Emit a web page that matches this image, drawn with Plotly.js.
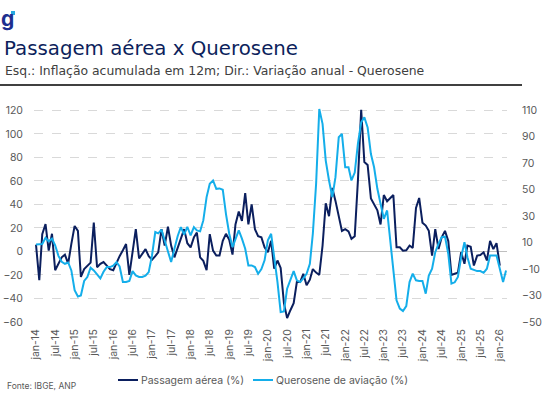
<!DOCTYPE html>
<html><head><meta charset="utf-8">
<script src="https://cdn.plot.ly/plotly-3.0.1.min.js"></script>
<style>html,body{margin:0;padding:0;background:#fff}#chart{width:544px;height:395px}</style>
</head><body><div id="chart"></div>
<script>
const startYear = 2014;
// Passagem aérea (%) – inflação acumulada em 12m (eixo esquerdo), jan-14 .. jan-26
const passagem = [
 5.7,-24.5,14.7,23.3,0.7,15,-16,-10.4,-5,-2.7,
 -10.4,6.5,21.7,17.5,-21.7,-15,-12,-9.5,24.5,-13.4,
 -10.5,-9,-12,-15,-16,-9,-4,1,6.3,-20,
 0,19,-6,-2,2,-4,-7,-4,-0.7,19,
 5,21,5,-5,3.5,12,19,7,3.5,12,
 16,-5,-8,-16,14.7,0.7,-3.5,-3.5,9,15,
 10,-2.7,23,34,26,49.6,23,40,19,13,
 12,3.5,-0.7,9,-14.7,-7.7,-14,-44,-56.7,-50,
 -44,-26,-26,-19,-28.7,-24,-15,-18,-20,5,
 41,30,54,43,30,17.5,19,17,10.7,13,
 60,120.5,76,73.5,45,40,35,23,48,42.7,
 45,48,3.5,3.5,0.7,1,5,3,37,45.5,
 24.5,22,17.5,-3.5,19,2,12,17.5,9,-20,
 -19,-18,-0.7,-10.5,5,4,-12,-3.5,-3,-0.7,
 -7.7,9,2,7,-12
];
// Querosene de aviação (%) – variação anual (eixo direito), jan-14 .. mar-26
const querosene = [
 8.6,8.6,9,13.7,11,13,8,0,-4.5,-6,
 -5,-11,-26,-30.7,-30,-19,-16,-9,-11,-14,
 -17,-12,-8.5,-8.5,-7.5,-4.7,-8,-19.8,-19.8,-19,
 -11.5,-14.8,-16,-16,-15,-12.3,0.3,18,17,19.7,
 11.7,4,-4.7,5.4,15,21.7,16,22,15.4,21.7,
 19.2,18.5,26.8,44.4,54.5,57,50.7,51,50,31.8,
 16.7,6.6,13,19.2,13,5.4,-7.2,-7.2,-8.5,-13.5,
 -10,-3.4,11.7,16.7,-1,-19.8,-42.5,-42,-24.8,-18.5,
 -11.5,-18.5,-19.8,-17,-13.5,-6,16.7,54.5,111,99.8,
 72,57,44.4,59.5,89.7,92.2,67,67,57,63,
 84.7,101,104.7,97,77,67,50.7,39.4,28,34.3,
 11.7,-13.5,-33.6,-39.8,-41.7,-38,-19.8,-13.5,-18.5,-19,
 -19,-28.6,-14.8,-9.7,2.8,9.2,14.2,14.5,1.6,-21,
 -20,-16,-1,10.4,-1,-9.7,-10.5,-11.5,-11.5,-12.8,
 -9.7,0.3,0.3,0.3,-9.7,-19.8,-11
];
const seriesNames = ['Passagem aérea (%)', 'Querosene de aviação (%)'];
const tickLabels = ['jan-14','jul-14','jan-15','jul-15','jan-16','jul-16','jan-17','jul-17',
 'jan-18','jul-18','jan-19','jul-19','jan-20','jul-20','jan-21','jul-21','jan-22','jul-22',
 'jan-23','jul-23','jan-24','jul-24','jan-25','jul-25','jan-26'];
const leftTicks = [-60,-40,-20,0,20,40,60,80,100,120];
const rightTicks = [-50,-30,-10,10,30,50,70,90,110];

function monthDate(i){
  const y = startYear + Math.floor(i/12), m = i%12 + 1;
  return y + '-' + String(m).padStart(2,'0') + '-01';
}
const datesP = passagem.map((_,i)=>monthDate(i));
const datesQ = querosene.map((_,i)=>monthDate(i));
const tickDates = tickLabels.map((_,i)=>monthDate(i*6));

const W=544, H=395, ml=34, mr=37, mt=108, mb=73;
const pw=W-ml-mr, ph=H-mt-mb;
const px = x => (x-ml)/pw;
const py = y => (H-mb-y)/ph;

const FONT = 'Inter, "Open Sans", sans-serif';
const TFONT = '"DejaVu Sans", Inter, sans-serif';
const navy = '#0b1f5e', cyan = '#14aeea', grey = '#595959';
const colors = [navy, cyan];
const extra = 2;

const traces = [
  {x: datesP, y: passagem, type:'scatter', mode:'lines', name:seriesNames[0],
   line:{color:navy, width:2}, yaxis:'y', hoverinfo:'skip', showlegend:false},
  {x: datesQ, y: querosene, type:'scatter', mode:'lines', name:seriesNames[1],
   line:{color:cyan, width:2}, yaxis:'y2', hoverinfo:'skip', showlegend:false}
];

// legend drawn as line samples + texts
const legendLineX = [[118,138],[253,273]];
const legendTextX = [139, 274];
const legendY = 380;

const annotations = [
  {text:'Esq.: Inflação acumulada em 12m; Dir.: Variação anual - Querosene', xref:'paper', yref:'paper',
   x:px(3), y:py(71), xanchor:'left', yanchor:'middle', showarrow:false,
   font:{size:12.4, color:'#404040', family:TFONT}},
  {text:'Fonte: IBGE, ANP', xref:'paper', yref:'paper', x:px(5), y:py(386), xanchor:'left',
   yanchor:'middle', showarrow:false, font:{size:8.5, color:grey, family:FONT}},
  {text:'<b>g</b>', xref:'paper', yref:'paper', x:px(-1), y:py(19), xanchor:'left', yanchor:'middle',
   showarrow:false, font:{size:21, color:'#1d2f8f', family:FONT}}
];
const shapes = [
  {type:'line', xref:'paper', yref:'paper', x0:px(0), x1:px(522), y0:py(85), y1:py(85),
   line:{color:'#000', width:1.5}},
  {type:'rect', xref:'paper', yref:'paper', x0:px(11), x1:px(15), y0:py(15), y1:py(11),
   fillcolor:'#27a9e1', line:{width:0}}
];
seriesNames.forEach((n,i)=>{
  shapes.push({type:'line', xref:'paper', yref:'paper', x0:px(legendLineX[i][0]), x1:px(legendLineX[i][1]),
    y0:py(legendY), y1:py(legendY), line:{color:colors[i], width:2}});
  annotations.push({text:n, xref:'paper', yref:'paper', x:px(legendTextX[i]), y:py(legendY),
    xanchor:'left', yanchor:'middle', showarrow:false, font:{size:10.5, color:grey, family:FONT}});
});

const layout = {
  width:W, height:H, margin:{l:ml, r:mr, t:mt, b:mb, autoexpand:false},
  paper_bgcolor:'#fff', plot_bgcolor:'#fff',
  font:{family:FONT, color:grey, size:10.5},
  showlegend:false,
  title:{text:'Passagem aérea x Querosene', x:4/W, xanchor:'left', xref:'container',
    y:1-48/H, yanchor:'middle', yref:'container', font:{size:19.8, color:'#0d1f5c', family:TFONT}},
  xaxis:{type:'date', range:['2013-12-13','2026-03-10'], tickvals:tickDates, ticktext:tickLabels,
    tickangle:-90, showgrid:false, zeroline:false, showline:false, ticks:'',
    tickfont:{size:10.5, color:grey}, ticklabelstandoff:4, automargin:false},
  yaxis:{range:[-60,120+extra], tickvals:leftTicks, showgrid:true, gridcolor:'#d9d9d9',
    griddash:'dash', gridwidth:1, zeroline:true, zerolinecolor:'#bfbfbf', zerolinewidth:1.3,
    showline:false, ticks:'', tickfont:{size:10.5, color:grey}, ticklabelstandoff:10, automargin:false},
  yaxis2:{range:[-50,110+extra*160/180], tickvals:rightTicks, overlaying:'y', side:'right',
    showgrid:false, zeroline:false, showline:false, ticks:'', tickfont:{size:10.5, color:grey},
    ticklabelstandoff:14, automargin:false},
  annotations: annotations,
  shapes: shapes
};

Plotly.newPlot('chart', traces, layout, {displayModeBar:false, staticPlot:true});
</script></body></html>
